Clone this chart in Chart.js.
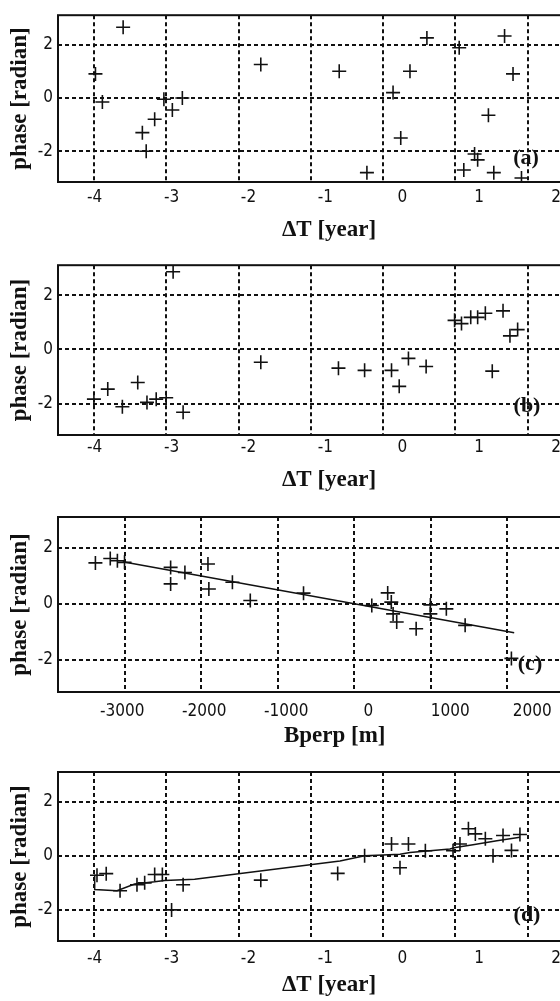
<!DOCTYPE html>
<html>
<head>
<meta charset="utf-8">
<title>phase vs dT / Bperp</title>
<script src="https://cdn.jsdelivr.net/npm/chart.js@4.4.1/dist/chart.umd.min.js"></script>
<style>
  html, body { margin: 0; padding: 0; background: #fff; }
  #page { position: relative; width: 560px; height: 1001px; overflow: hidden; }
  #page canvas { position: absolute; left: 0; }
  .tag {
    position: absolute;
    font: bold 22px "Liberation Serif", "Times New Roman", serif;
    color: #111;
    transform: translate(-50%, -50%);
  }
</style>
</head>
<body>
<div id="page">
  <canvas id="chartA" width="620" height="250" style="top:0px"></canvas>
  <canvas id="chartB" width="620" height="250" style="top:250px"></canvas>
  <canvas id="chartC" width="620" height="250" style="top:500px"></canvas>
  <canvas id="chartD" width="620" height="251" style="top:750px"></canvas>
  <div class="tag" style="left:526px;top:157px">(a)</div>
  <div class="tag" style="left:527px;top:405px">(b)</div>
  <div class="tag" style="left:530px;top:663px">(c)</div>
  <div class="tag" style="left:527px;top:914px">(d)</div>
</div>
<script>
// tick labels and grid positions
const dtTicks = [-4, -3, -2, -1, 0, 1, 2];
const bpTicks = [-3000, -2000, -1000, 0, 1000, 2000];
const phaseTicks = [-2, 0, 2];

// (a) raw phase vs time span
const dtA = [-3.99, -3.90, -3.63, -3.38, -3.33, -3.22, -3.10, -2.99, -2.86, -1.84, -0.82, -0.46, -0.12,
  -0.02, 0.10, 0.32, 0.74, 0.80, 0.94, 0.98, 1.12, 1.19, 1.33, 1.44, 1.55];
const phA = [0.9, -0.15, 2.65, -1.3, -2.0, -0.8, -0.05, -0.45, 0, 1.25, 1.0, -2.8, 0.2,
  -1.5, 1.0, 2.25, 1.88, -2.7, -2.1, -2.32, -0.65, -2.8, 2.32, 0.9, -3.0];

// (b)
const dtB = [-4.01, -3.83, -3.64, -3.44, -3.32, -3.20, -3.07, -2.98, -2.85, -1.84, -0.83, -0.49, -0.14,
  -0.04, 0.08, 0.31, 0.68, 0.77, 0.89, 0.98, 1.08, 1.17, 1.31, 1.40, 1.50];
const phB = [-1.83, -1.46, -2.11, -1.22, -1.95, -1.83, -1.78, 2.86, -2.31, -0.47, -0.69, -0.77, -0.77,
  -1.36, -0.33, -0.63, 1.07, 0.95, 1.18, 1.18, 1.33, -0.8, 1.42, 0.5, 0.73];

// (c) phase vs perpendicular baseline + fitted line
const bpC = [-3326, -3145, -3058, -2971, -2409, -2409, -2235, -1954, -1943, -1656, -1438, -789,
  43, 237, 281, 303, 347, 584, 757, 757, 952, 1181, 1745];
const phC = [1.46, 1.62, 1.54, 1.48, 1.30, 0.71, 1.12, 1.42, 0.53, 0.77, 0.12, 0.38,
  -0.06, 0.39, 0.06, -0.36, -0.65, -0.89, -0.04, -0.36, -0.18, -0.77, -1.95];
const fitCx = [-2993, 1779];
const fitCy = [1.5, -1.03];

// (d) corrected phase vs time span + model
const dtD = [-3.97, -3.85, -3.67, -3.45, -3.35, -3.22, -3.12, -3.0, -2.85, -1.84, -0.84, -0.49, -0.14,
  -0.03, 0.08, 0.30, 0.66, 0.75, 0.86, 0.95, 1.08, 1.18, 1.31, 1.42, 1.53];
const phD = [-0.72, -0.66, -1.29, -1.07, -1.0, -0.69, -0.69, -2.0, -1.07, -0.9, -0.65, 0.0, 0.44,
  -0.44, 0.44, 0.19, 0.19, 0.44, 1.0, 0.81, 0.63, 0.0, 0.75, 0.2, 0.79];
const fitDx = [-4.0, -4.0, -3.71, -3.48, -3.22, -3.09, -2.70, -0.81, -0.49, -0.25, -0.03, 0.10,
  0.62, 0.69, 0.92, 1.23, 1.53];
const fitDy = [-0.69, -1.25, -1.29, -1.04, -0.96, -0.91, -0.87, -0.19, 0.0, 0.03, 0.06, 0.12,
  0.25, 0.31, 0.41, 0.56, 0.69];

const ink = "#111";
const tickFont = { family: "'Liberation Sans Narrow', 'DejaVu Sans Condensed', sans-serif", size: 17 };
const titleFont = { family: "'Liberation Serif', 'Times New Roman', serif", size: 23, weight: "bold" };

// box round the plot area
const framePlugin = {
  id: "frame",
  afterDraw(chart) {
    const { ctx, chartArea: a } = chart;
    ctx.save();
    ctx.strokeStyle = ink;
    ctx.lineWidth = 2;
    ctx.strokeRect(a.left, a.top, a.right - a.left, a.bottom - a.top);
    ctx.restore();
  }
};

const toPts = (xs, ys) => xs.map((x, i) => ({ x: x, y: ys[i] }));

function makePanel(id, p) {
  const datasets = [{
    data: toPts(p.xs, p.ys),
    pointStyle: "cross",
    pointRadius: 7,
    borderColor: ink,
    borderWidth: 1.6,
    showLine: false
  }];
  if (p.fitX) {
    datasets.push({
      data: toPts(p.fitX, p.fitY),
      showLine: true,
      pointRadius: 0,
      borderColor: ink,
      borderWidth: 1.5,
      fill: false
    });
  }

  new Chart(document.getElementById(id), {
    type: "scatter",
    data: { datasets },
    plugins: [framePlugin],
    options: {
      responsive: false,
      devicePixelRatio: 1,
      animation: false,
      events: [],
      layout: { padding: { top: p.top, right: p.right, left: 0, bottom: 0 } },
      plugins: { legend: { display: false }, tooltip: { enabled: false } },
      scales: {
        // labelled axis (values)
        x: {
          type: "linear",
          position: "bottom",
          min: p.xMin,
          max: p.xMax,
          afterBuildTicks: s => { s.ticks = p.ticks.map(v => ({ value: v })); },
          afterFit: s => { s.height = p.xh; },
          grid: { display: false, drawTicks: false },
          border: { display: false },
          ticks: {
            color: ink, font: tickFont, padding: p.labelPad, maxRotation: 0, autoSkip: false,
            callback: v => String(v)
          },
          title: { display: true, text: p.xTitle, color: ink, font: titleFont, padding: { top: 0, bottom: p.titlePad } }
        },
        // dashed grid, drawn on its own axis
        gx: {
          type: "linear",
          position: "bottom",
          min: p.gMin,
          max: p.gMax,
          afterBuildTicks: s => { s.ticks = p.ticks.map(v => ({ value: v })); },
          afterFit: s => { s.height = 0; },
          grid: { color: ink, lineWidth: 2, drawTicks: false },
          border: { display: false, dash: [4, 3] },
          ticks: { display: false }
        },
        y: {
          min: -3.15,
          max: 3.1,
          afterBuildTicks: s => { s.ticks = phaseTicks.map(v => ({ value: v })); },
          afterFit: s => { s.width = 58; },
          grid: { color: ink, lineWidth: 2, drawTicks: false },
          border: { display: false, dash: [4, 3] },
          ticks: { color: ink, font: tickFont, padding: 5, callback: v => String(v) },
          title: { display: true, text: "phase [radian]", color: ink, font: titleFont, padding: { top: 6, bottom: 0 } }
        }
      }
    }
  });
}

document.addEventListener("DOMContentLoaded", () => {
  const dtAxis = { ticks: dtTicks, xMin: -4.477, xMax: 2.571, gMin: -4.5, gMax: 3, right: 20, xTitle: "\u0394T [year]" };

  makePanel("chartA", Object.assign({}, dtAxis, { xs: dtA, ys: phA, top: 8, xh: 68, labelPad: 5, titlePad: 6 }));
  makePanel("chartB", Object.assign({}, dtAxis, { xs: dtB, ys: phB, top: 9, xh: 65, labelPad: 2, titlePad: 6 }));
  makePanel("chartC", {
    ticks: bpTicks, xMin: -3782, xMax: 2964, gMin: -3870, gMax: 3364, right: 4, xTitle: "Bperp [m]",
    xs: bpC, ys: phC, fitX: fitCx, fitY: fitCy, top: 17, xh: 58, labelPad: 9, titlePad: 0
  });
  makePanel("chartD", Object.assign({}, dtAxis, {
    xs: dtD, ys: phD, fitX: fitDx, fitY: fitDy, top: 22, xh: 60, labelPad: 7, titlePad: 2
  }));
});
</script>
</body>
</html>
